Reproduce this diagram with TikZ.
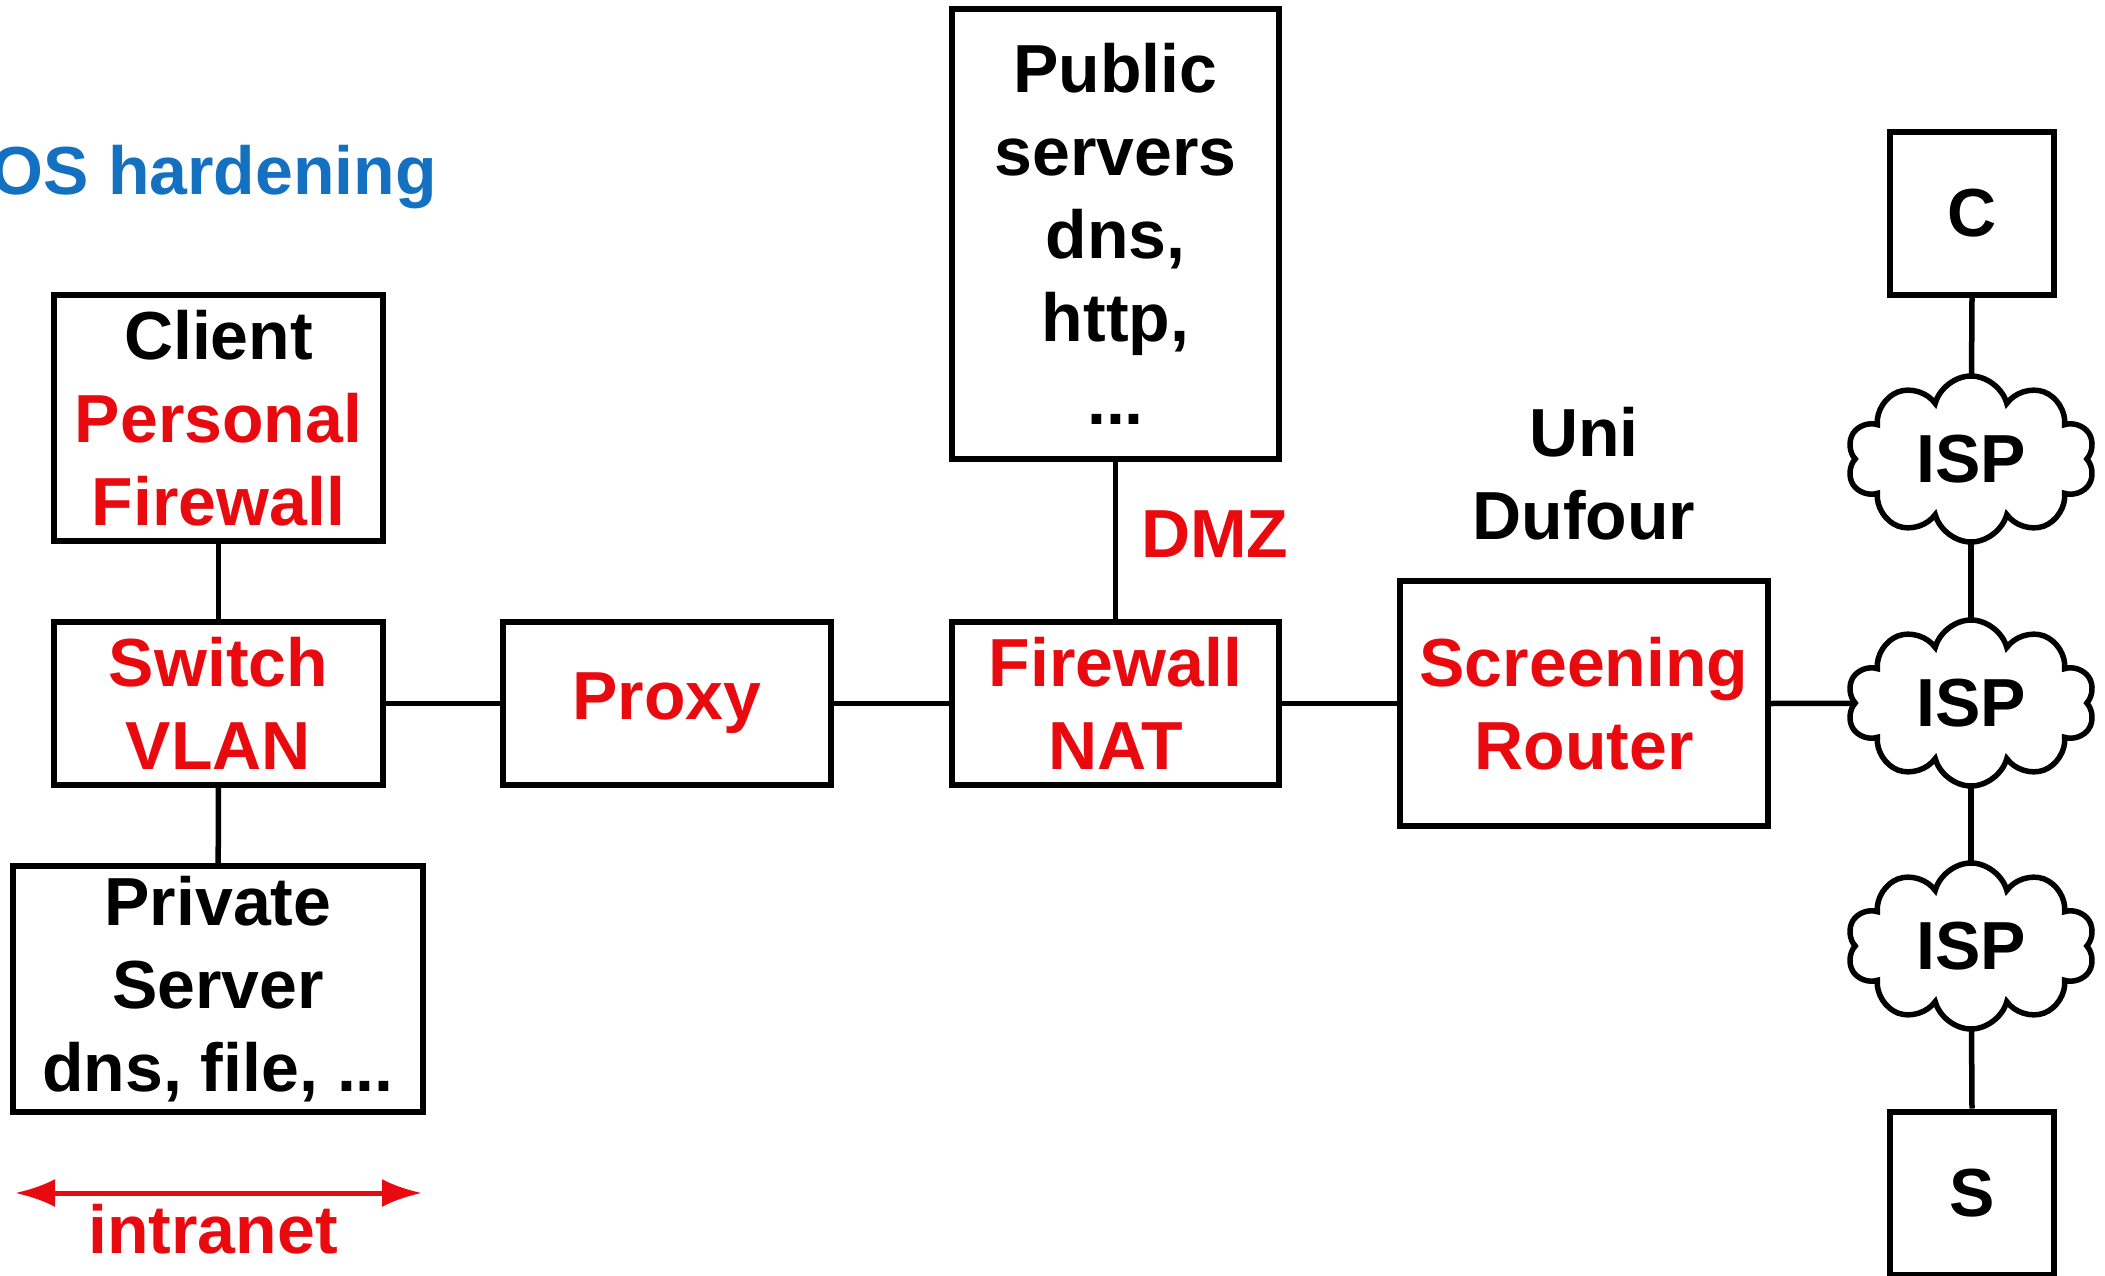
\documentclass[tikz,border=0pt]{standalone}
\usepackage{fontspec}
\setmainfont{Liberation Sans}
\usetikzlibrary{shapes.symbols,backgrounds,arrows.meta}
\definecolor{alertred}{RGB}{232,10,15}
\definecolor{hardblue}{RGB}{20,112,192}
\newcommand\diagfont{\fontsize{68}{83}\selectfont\bfseries}
\tikzset{
  box/.style={draw, line width=6pt, fill=white, inner sep=0pt, align=center, font=\diagfont},
  link/.style={line width=5.5pt},
  isp/.style={cloud, cloud puffs=10, aspect=1.5, draw, line width=5.5pt, fill=white,
    inner sep=0pt, minimum width=248pt, minimum height=166pt, font=\diagfont},
  label/.style={inner sep=0pt, align=center, font=\diagfont},
}
\begin{document}
\begin{tikzpicture}[x=1pt,y=-1pt]
\useasboundingbox (0,0) rectangle (2105,1276);

% intranet side
\node[box, minimum width=329pt, minimum height=246pt] (client) at (218.5,418)
  {Client\\\textcolor{alertred}{Personal}\\\textcolor{alertred}{Firewall}};
\node[box, minimum width=329pt, minimum height=163pt, text=alertred] (switch) at (218.5,703.5)
  {Switch\\VLAN};
\node[box, minimum width=410pt, minimum height=246pt] (private) at (218,989)
  {Private\\Server\\dns, file, ...};

% perimeter chain
\node[box, minimum width=328pt, minimum height=163pt, text=alertred] (proxy) at (667,703.5) {Proxy};
\node[box, minimum width=327pt, minimum height=163pt, text=alertred] (fw) at (1115.5,703.5)
  {Firewall\\NAT};
\node[box, minimum width=327pt, minimum height=450pt] (public) at (1115.5,234)
  {Public\\servers\\dns,\\http,\\...};
\node[box, minimum width=368pt, minimum height=245pt, text=alertred] (router) at (1584,703.5)
  {Screening\\Router};

% internet side
\node[box, minimum width=164pt, minimum height=163pt] (c) at (1972,213.5) {C};
\node[isp] (isp1) at (1971,459) {ISP};
\node[isp] (isp2) at (1971,703) {ISP};
\node[isp] (isp3) at (1971,946) {ISP};
\node[box, minimum width=164pt, minimum height=163pt] (s) at (1972,1193) {S};

% free labels
\node[label, text=hardblue, anchor=base east] (hard) at (437,195) {OS hardening};
\node[label, text=alertred, anchor=base west] (dmz) at (1141,557) {DMZ};
\node[label, anchor=base] (uni) at (1584,539) {Uni\\Dufour};
\node[label, text=alertred, anchor=base] (intranet) at (213,1253) {intranet};

% connectors
\draw[link] (client) -- (switch);
\draw[link] (switch) -- (private);
\draw[link] (switch) -- (proxy);
\draw[link] (proxy) -- (fw);
\draw[link] (fw) -- (router);
\draw[link] (public) -- (fw);
\begin{scope}[on background layer]
  \draw[link] (router.east) -- (isp2.center);
  \draw[link] (c.south) -- (isp1.center);
  \draw[link] (isp1.center) -- (isp2.center);
  \draw[link] (isp2.center) -- (isp3.center);
  \draw[link] (isp3.center) -- (s.north);
\end{scope}

% intranet extent arrow
\coordinate (il) at (15,1193);
\coordinate (ir) at (422,1193);
\draw[alertred, line width=5pt, {Latex[length=40pt,width=28pt]}-{Latex[length=40pt,width=28pt]}] (il) -- (ir);
\end{tikzpicture}
\end{document}
